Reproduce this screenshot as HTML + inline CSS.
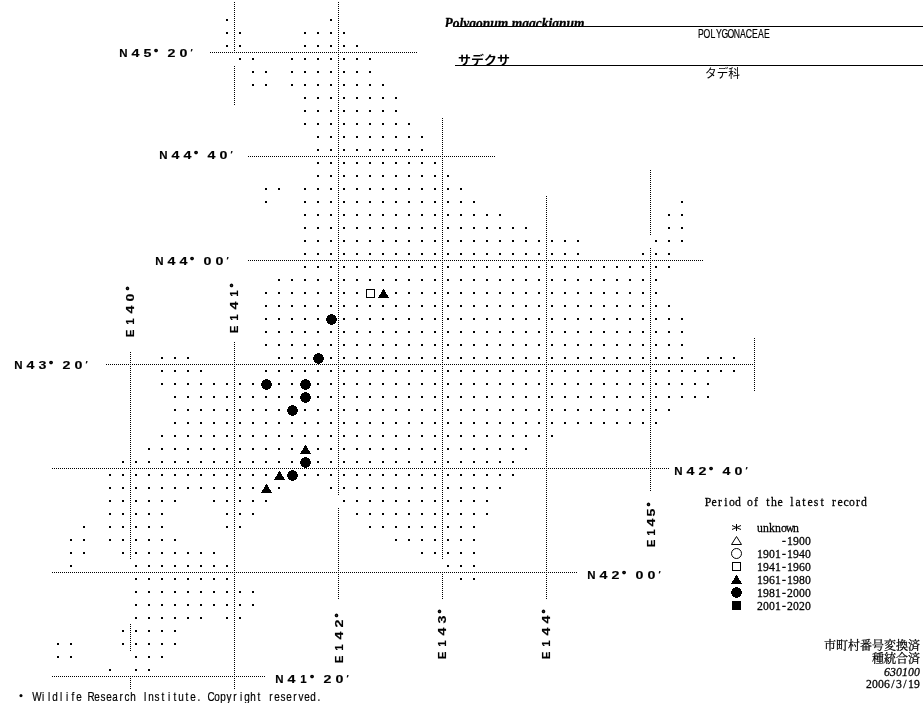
<!DOCTYPE html>
<html lang="ja"><head><meta charset="utf-8"><title>Polygonum maackianum</title>
<style>
html,body{margin:0;padding:0;background:#fff;}
body{width:923px;height:703px;overflow:hidden;position:relative;}
svg{position:absolute;left:0;top:0;display:block;}
.ax{font-family:"Liberation Sans",sans-serif;font-weight:bold;font-size:10px;fill:#000;text-anchor:middle;stroke:#000;stroke-width:.15px;}
.mono{font-family:"Liberation Mono",monospace;font-size:10px;fill:#000;stroke:#000;stroke-width:.25px;}
.serif{font-family:"Liberation Serif","Noto Serif CJK SC",serif;fill:#000;}
.got{font-family:"Liberation Sans","Noto Sans CJK JP",sans-serif;fill:#000;}
.min{font-family:"Liberation Serif","Noto Serif CJK SC",serif;fill:#000;}
</style></head><body>
<svg width="923" height="703" viewBox="0 0 923 703">
<rect width="923" height="703" fill="#fff"/>

<g shape-rendering="crispEdges" fill="#000">
<path d="M226 19h2v2h-2zM330 19h2v2h-2zM226 32h2v2h-2zM239 32h2v2h-2zM304 32h2v2h-2zM317 32h2v2h-2zM330 32h2v2h-2zM343 32h2v2h-2zM226 45h2v2h-2zM239 45h2v2h-2zM304 45h2v2h-2zM317 45h2v2h-2zM330 45h2v2h-2zM343 45h2v2h-2zM356 45h2v2h-2zM239 58h2v2h-2zM252 58h2v2h-2zM291 58h2v2h-2zM304 58h2v2h-2zM317 58h2v2h-2zM330 58h2v2h-2zM343 58h2v2h-2zM356 58h2v2h-2zM369 58h2v2h-2zM252 71h2v2h-2zM265 71h2v2h-2zM291 71h2v2h-2zM304 71h2v2h-2zM317 71h2v2h-2zM330 71h2v2h-2zM343 71h2v2h-2zM356 71h2v2h-2zM369 71h2v2h-2zM252 84h2v2h-2zM265 84h2v2h-2zM291 84h2v2h-2zM304 84h2v2h-2zM317 84h2v2h-2zM330 84h2v2h-2zM343 84h2v2h-2zM356 84h2v2h-2zM369 84h2v2h-2zM382 84h2v2h-2zM304 97h2v2h-2zM317 97h2v2h-2zM330 97h2v2h-2zM343 97h2v2h-2zM356 97h2v2h-2zM369 97h2v2h-2zM382 97h2v2h-2zM395 97h2v2h-2zM304 110h2v2h-2zM317 110h2v2h-2zM330 110h2v2h-2zM343 110h2v2h-2zM356 110h2v2h-2zM369 110h2v2h-2zM382 110h2v2h-2zM395 110h2v2h-2zM304 123h2v2h-2zM317 123h2v2h-2zM330 123h2v2h-2zM343 123h2v2h-2zM356 123h2v2h-2zM369 123h2v2h-2zM382 123h2v2h-2zM395 123h2v2h-2zM408 123h2v2h-2zM317 136h2v2h-2zM330 136h2v2h-2zM343 136h2v2h-2zM356 136h2v2h-2zM369 136h2v2h-2zM382 136h2v2h-2zM395 136h2v2h-2zM408 136h2v2h-2zM421 136h2v2h-2zM317 149h2v2h-2zM330 149h2v2h-2zM343 149h2v2h-2zM356 149h2v2h-2zM369 149h2v2h-2zM382 149h2v2h-2zM395 149h2v2h-2zM408 149h2v2h-2zM421 149h2v2h-2zM317 162h2v2h-2zM330 162h2v2h-2zM343 162h2v2h-2zM356 162h2v2h-2zM369 162h2v2h-2zM382 162h2v2h-2zM395 162h2v2h-2zM408 162h2v2h-2zM421 162h2v2h-2zM434 162h2v2h-2zM317 175h2v2h-2zM330 175h2v2h-2zM343 175h2v2h-2zM356 175h2v2h-2zM369 175h2v2h-2zM382 175h2v2h-2zM395 175h2v2h-2zM408 175h2v2h-2zM421 175h2v2h-2zM434 175h2v2h-2zM447 175h2v2h-2zM265 188h2v2h-2zM278 188h2v2h-2zM304 188h2v2h-2zM317 188h2v2h-2zM330 188h2v2h-2zM343 188h2v2h-2zM356 188h2v2h-2zM369 188h2v2h-2zM382 188h2v2h-2zM395 188h2v2h-2zM408 188h2v2h-2zM421 188h2v2h-2zM434 188h2v2h-2zM447 188h2v2h-2zM460 188h2v2h-2zM265 201h2v2h-2zM304 201h2v2h-2zM317 201h2v2h-2zM330 201h2v2h-2zM343 201h2v2h-2zM356 201h2v2h-2zM369 201h2v2h-2zM382 201h2v2h-2zM395 201h2v2h-2zM408 201h2v2h-2zM421 201h2v2h-2zM434 201h2v2h-2zM447 201h2v2h-2zM460 201h2v2h-2zM473 201h2v2h-2zM681 201h2v2h-2zM304 214h2v2h-2zM317 214h2v2h-2zM330 214h2v2h-2zM343 214h2v2h-2zM356 214h2v2h-2zM369 214h2v2h-2zM382 214h2v2h-2zM395 214h2v2h-2zM408 214h2v2h-2zM421 214h2v2h-2zM434 214h2v2h-2zM447 214h2v2h-2zM460 214h2v2h-2zM473 214h2v2h-2zM486 214h2v2h-2zM499 214h2v2h-2zM668 214h2v2h-2zM681 214h2v2h-2zM304 227h2v2h-2zM317 227h2v2h-2zM330 227h2v2h-2zM343 227h2v2h-2zM356 227h2v2h-2zM369 227h2v2h-2zM382 227h2v2h-2zM395 227h2v2h-2zM408 227h2v2h-2zM421 227h2v2h-2zM434 227h2v2h-2zM447 227h2v2h-2zM460 227h2v2h-2zM473 227h2v2h-2zM486 227h2v2h-2zM499 227h2v2h-2zM512 227h2v2h-2zM525 227h2v2h-2zM668 227h2v2h-2zM681 227h2v2h-2zM304 240h2v2h-2zM317 240h2v2h-2zM330 240h2v2h-2zM343 240h2v2h-2zM356 240h2v2h-2zM369 240h2v2h-2zM382 240h2v2h-2zM395 240h2v2h-2zM408 240h2v2h-2zM421 240h2v2h-2zM434 240h2v2h-2zM447 240h2v2h-2zM460 240h2v2h-2zM473 240h2v2h-2zM486 240h2v2h-2zM499 240h2v2h-2zM512 240h2v2h-2zM525 240h2v2h-2zM538 240h2v2h-2zM551 240h2v2h-2zM564 240h2v2h-2zM577 240h2v2h-2zM655 240h2v2h-2zM668 240h2v2h-2zM681 240h2v2h-2zM304 253h2v2h-2zM317 253h2v2h-2zM330 253h2v2h-2zM343 253h2v2h-2zM356 253h2v2h-2zM369 253h2v2h-2zM382 253h2v2h-2zM395 253h2v2h-2zM408 253h2v2h-2zM421 253h2v2h-2zM434 253h2v2h-2zM447 253h2v2h-2zM460 253h2v2h-2zM473 253h2v2h-2zM486 253h2v2h-2zM499 253h2v2h-2zM512 253h2v2h-2zM525 253h2v2h-2zM538 253h2v2h-2zM551 253h2v2h-2zM564 253h2v2h-2zM577 253h2v2h-2zM642 253h2v2h-2zM655 253h2v2h-2zM668 253h2v2h-2zM304 266h2v2h-2zM317 266h2v2h-2zM330 266h2v2h-2zM343 266h2v2h-2zM356 266h2v2h-2zM369 266h2v2h-2zM382 266h2v2h-2zM395 266h2v2h-2zM408 266h2v2h-2zM421 266h2v2h-2zM434 266h2v2h-2zM447 266h2v2h-2zM460 266h2v2h-2zM473 266h2v2h-2zM486 266h2v2h-2zM499 266h2v2h-2zM512 266h2v2h-2zM525 266h2v2h-2zM538 266h2v2h-2zM551 266h2v2h-2zM564 266h2v2h-2zM577 266h2v2h-2zM590 266h2v2h-2zM603 266h2v2h-2zM616 266h2v2h-2zM629 266h2v2h-2zM642 266h2v2h-2zM655 266h2v2h-2zM668 266h2v2h-2zM278 279h2v2h-2zM291 279h2v2h-2zM304 279h2v2h-2zM317 279h2v2h-2zM330 279h2v2h-2zM343 279h2v2h-2zM356 279h2v2h-2zM369 279h2v2h-2zM382 279h2v2h-2zM395 279h2v2h-2zM408 279h2v2h-2zM421 279h2v2h-2zM434 279h2v2h-2zM447 279h2v2h-2zM460 279h2v2h-2zM473 279h2v2h-2zM486 279h2v2h-2zM499 279h2v2h-2zM512 279h2v2h-2zM525 279h2v2h-2zM538 279h2v2h-2zM551 279h2v2h-2zM564 279h2v2h-2zM577 279h2v2h-2zM590 279h2v2h-2zM603 279h2v2h-2zM616 279h2v2h-2zM629 279h2v2h-2zM642 279h2v2h-2zM655 279h2v2h-2zM265 292h2v2h-2zM278 292h2v2h-2zM291 292h2v2h-2zM304 292h2v2h-2zM317 292h2v2h-2zM330 292h2v2h-2zM343 292h2v2h-2zM356 292h2v2h-2zM395 292h2v2h-2zM408 292h2v2h-2zM421 292h2v2h-2zM434 292h2v2h-2zM447 292h2v2h-2zM460 292h2v2h-2zM473 292h2v2h-2zM486 292h2v2h-2zM499 292h2v2h-2zM512 292h2v2h-2zM525 292h2v2h-2zM538 292h2v2h-2zM551 292h2v2h-2zM564 292h2v2h-2zM577 292h2v2h-2zM590 292h2v2h-2zM603 292h2v2h-2zM616 292h2v2h-2zM629 292h2v2h-2zM642 292h2v2h-2zM655 292h2v2h-2zM265 305h2v2h-2zM278 305h2v2h-2zM291 305h2v2h-2zM304 305h2v2h-2zM317 305h2v2h-2zM330 305h2v2h-2zM343 305h2v2h-2zM356 305h2v2h-2zM369 305h2v2h-2zM382 305h2v2h-2zM395 305h2v2h-2zM408 305h2v2h-2zM421 305h2v2h-2zM434 305h2v2h-2zM447 305h2v2h-2zM460 305h2v2h-2zM473 305h2v2h-2zM486 305h2v2h-2zM499 305h2v2h-2zM512 305h2v2h-2zM525 305h2v2h-2zM538 305h2v2h-2zM551 305h2v2h-2zM564 305h2v2h-2zM577 305h2v2h-2zM590 305h2v2h-2zM603 305h2v2h-2zM616 305h2v2h-2zM629 305h2v2h-2zM642 305h2v2h-2zM655 305h2v2h-2zM668 305h2v2h-2zM265 318h2v2h-2zM278 318h2v2h-2zM291 318h2v2h-2zM304 318h2v2h-2zM317 318h2v2h-2zM343 318h2v2h-2zM356 318h2v2h-2zM369 318h2v2h-2zM382 318h2v2h-2zM395 318h2v2h-2zM408 318h2v2h-2zM421 318h2v2h-2zM434 318h2v2h-2zM447 318h2v2h-2zM460 318h2v2h-2zM473 318h2v2h-2zM486 318h2v2h-2zM499 318h2v2h-2zM512 318h2v2h-2zM525 318h2v2h-2zM538 318h2v2h-2zM551 318h2v2h-2zM564 318h2v2h-2zM577 318h2v2h-2zM590 318h2v2h-2zM603 318h2v2h-2zM616 318h2v2h-2zM629 318h2v2h-2zM642 318h2v2h-2zM655 318h2v2h-2zM668 318h2v2h-2zM681 318h2v2h-2zM265 331h2v2h-2zM278 331h2v2h-2zM291 331h2v2h-2zM304 331h2v2h-2zM317 331h2v2h-2zM330 331h2v2h-2zM343 331h2v2h-2zM356 331h2v2h-2zM369 331h2v2h-2zM382 331h2v2h-2zM395 331h2v2h-2zM408 331h2v2h-2zM421 331h2v2h-2zM434 331h2v2h-2zM447 331h2v2h-2zM460 331h2v2h-2zM473 331h2v2h-2zM486 331h2v2h-2zM499 331h2v2h-2zM512 331h2v2h-2zM525 331h2v2h-2zM538 331h2v2h-2zM551 331h2v2h-2zM564 331h2v2h-2zM577 331h2v2h-2zM590 331h2v2h-2zM603 331h2v2h-2zM616 331h2v2h-2zM629 331h2v2h-2zM642 331h2v2h-2zM655 331h2v2h-2zM668 331h2v2h-2zM681 331h2v2h-2zM265 344h2v2h-2zM278 344h2v2h-2zM291 344h2v2h-2zM304 344h2v2h-2zM317 344h2v2h-2zM330 344h2v2h-2zM343 344h2v2h-2zM356 344h2v2h-2zM369 344h2v2h-2zM382 344h2v2h-2zM395 344h2v2h-2zM408 344h2v2h-2zM421 344h2v2h-2zM434 344h2v2h-2zM447 344h2v2h-2zM460 344h2v2h-2zM473 344h2v2h-2zM486 344h2v2h-2zM499 344h2v2h-2zM512 344h2v2h-2zM525 344h2v2h-2zM538 344h2v2h-2zM551 344h2v2h-2zM564 344h2v2h-2zM577 344h2v2h-2zM590 344h2v2h-2zM603 344h2v2h-2zM616 344h2v2h-2zM629 344h2v2h-2zM642 344h2v2h-2zM655 344h2v2h-2zM668 344h2v2h-2zM681 344h2v2h-2zM161 357h2v2h-2zM174 357h2v2h-2zM187 357h2v2h-2zM278 357h2v2h-2zM291 357h2v2h-2zM304 357h2v2h-2zM330 357h2v2h-2zM343 357h2v2h-2zM356 357h2v2h-2zM369 357h2v2h-2zM382 357h2v2h-2zM395 357h2v2h-2zM408 357h2v2h-2zM421 357h2v2h-2zM434 357h2v2h-2zM447 357h2v2h-2zM460 357h2v2h-2zM473 357h2v2h-2zM486 357h2v2h-2zM499 357h2v2h-2zM512 357h2v2h-2zM525 357h2v2h-2zM538 357h2v2h-2zM551 357h2v2h-2zM564 357h2v2h-2zM577 357h2v2h-2zM590 357h2v2h-2zM603 357h2v2h-2zM616 357h2v2h-2zM629 357h2v2h-2zM642 357h2v2h-2zM655 357h2v2h-2zM668 357h2v2h-2zM681 357h2v2h-2zM707 357h2v2h-2zM720 357h2v2h-2zM733 357h2v2h-2zM161 370h2v2h-2zM174 370h2v2h-2zM187 370h2v2h-2zM200 370h2v2h-2zM265 370h2v2h-2zM278 370h2v2h-2zM291 370h2v2h-2zM304 370h2v2h-2zM317 370h2v2h-2zM330 370h2v2h-2zM343 370h2v2h-2zM356 370h2v2h-2zM369 370h2v2h-2zM382 370h2v2h-2zM395 370h2v2h-2zM408 370h2v2h-2zM421 370h2v2h-2zM434 370h2v2h-2zM447 370h2v2h-2zM460 370h2v2h-2zM473 370h2v2h-2zM486 370h2v2h-2zM499 370h2v2h-2zM512 370h2v2h-2zM525 370h2v2h-2zM538 370h2v2h-2zM551 370h2v2h-2zM564 370h2v2h-2zM577 370h2v2h-2zM590 370h2v2h-2zM603 370h2v2h-2zM616 370h2v2h-2zM629 370h2v2h-2zM642 370h2v2h-2zM655 370h2v2h-2zM668 370h2v2h-2zM681 370h2v2h-2zM694 370h2v2h-2zM707 370h2v2h-2zM720 370h2v2h-2zM733 370h2v2h-2zM161 383h2v2h-2zM174 383h2v2h-2zM187 383h2v2h-2zM200 383h2v2h-2zM213 383h2v2h-2zM226 383h2v2h-2zM239 383h2v2h-2zM252 383h2v2h-2zM278 383h2v2h-2zM291 383h2v2h-2zM317 383h2v2h-2zM330 383h2v2h-2zM343 383h2v2h-2zM356 383h2v2h-2zM369 383h2v2h-2zM382 383h2v2h-2zM395 383h2v2h-2zM408 383h2v2h-2zM421 383h2v2h-2zM434 383h2v2h-2zM447 383h2v2h-2zM460 383h2v2h-2zM473 383h2v2h-2zM486 383h2v2h-2zM499 383h2v2h-2zM512 383h2v2h-2zM525 383h2v2h-2zM538 383h2v2h-2zM551 383h2v2h-2zM564 383h2v2h-2zM577 383h2v2h-2zM590 383h2v2h-2zM603 383h2v2h-2zM616 383h2v2h-2zM629 383h2v2h-2zM642 383h2v2h-2zM655 383h2v2h-2zM668 383h2v2h-2zM681 383h2v2h-2zM694 383h2v2h-2zM707 383h2v2h-2zM174 396h2v2h-2zM187 396h2v2h-2zM200 396h2v2h-2zM213 396h2v2h-2zM226 396h2v2h-2zM239 396h2v2h-2zM252 396h2v2h-2zM265 396h2v2h-2zM278 396h2v2h-2zM291 396h2v2h-2zM317 396h2v2h-2zM330 396h2v2h-2zM343 396h2v2h-2zM356 396h2v2h-2zM369 396h2v2h-2zM382 396h2v2h-2zM395 396h2v2h-2zM408 396h2v2h-2zM421 396h2v2h-2zM434 396h2v2h-2zM447 396h2v2h-2zM460 396h2v2h-2zM473 396h2v2h-2zM486 396h2v2h-2zM499 396h2v2h-2zM512 396h2v2h-2zM525 396h2v2h-2zM538 396h2v2h-2zM551 396h2v2h-2zM564 396h2v2h-2zM577 396h2v2h-2zM590 396h2v2h-2zM603 396h2v2h-2zM616 396h2v2h-2zM629 396h2v2h-2zM642 396h2v2h-2zM655 396h2v2h-2zM668 396h2v2h-2zM681 396h2v2h-2zM694 396h2v2h-2zM707 396h2v2h-2zM174 409h2v2h-2zM187 409h2v2h-2zM200 409h2v2h-2zM213 409h2v2h-2zM226 409h2v2h-2zM239 409h2v2h-2zM252 409h2v2h-2zM265 409h2v2h-2zM278 409h2v2h-2zM304 409h2v2h-2zM317 409h2v2h-2zM330 409h2v2h-2zM343 409h2v2h-2zM356 409h2v2h-2zM369 409h2v2h-2zM382 409h2v2h-2zM395 409h2v2h-2zM408 409h2v2h-2zM421 409h2v2h-2zM434 409h2v2h-2zM447 409h2v2h-2zM460 409h2v2h-2zM473 409h2v2h-2zM486 409h2v2h-2zM499 409h2v2h-2zM512 409h2v2h-2zM525 409h2v2h-2zM538 409h2v2h-2zM551 409h2v2h-2zM564 409h2v2h-2zM577 409h2v2h-2zM590 409h2v2h-2zM603 409h2v2h-2zM616 409h2v2h-2zM629 409h2v2h-2zM642 409h2v2h-2zM655 409h2v2h-2zM668 409h2v2h-2zM174 422h2v2h-2zM187 422h2v2h-2zM200 422h2v2h-2zM213 422h2v2h-2zM226 422h2v2h-2zM239 422h2v2h-2zM252 422h2v2h-2zM265 422h2v2h-2zM278 422h2v2h-2zM291 422h2v2h-2zM304 422h2v2h-2zM317 422h2v2h-2zM330 422h2v2h-2zM343 422h2v2h-2zM356 422h2v2h-2zM369 422h2v2h-2zM382 422h2v2h-2zM395 422h2v2h-2zM408 422h2v2h-2zM421 422h2v2h-2zM434 422h2v2h-2zM447 422h2v2h-2zM460 422h2v2h-2zM473 422h2v2h-2zM486 422h2v2h-2zM499 422h2v2h-2zM512 422h2v2h-2zM525 422h2v2h-2zM538 422h2v2h-2zM551 422h2v2h-2zM564 422h2v2h-2zM577 422h2v2h-2zM590 422h2v2h-2zM603 422h2v2h-2zM616 422h2v2h-2zM629 422h2v2h-2zM642 422h2v2h-2zM655 422h2v2h-2zM161 435h2v2h-2zM174 435h2v2h-2zM187 435h2v2h-2zM200 435h2v2h-2zM213 435h2v2h-2zM226 435h2v2h-2zM239 435h2v2h-2zM252 435h2v2h-2zM265 435h2v2h-2zM278 435h2v2h-2zM291 435h2v2h-2zM304 435h2v2h-2zM317 435h2v2h-2zM330 435h2v2h-2zM343 435h2v2h-2zM356 435h2v2h-2zM369 435h2v2h-2zM382 435h2v2h-2zM395 435h2v2h-2zM408 435h2v2h-2zM421 435h2v2h-2zM434 435h2v2h-2zM447 435h2v2h-2zM460 435h2v2h-2zM473 435h2v2h-2zM486 435h2v2h-2zM499 435h2v2h-2zM512 435h2v2h-2zM525 435h2v2h-2zM538 435h2v2h-2zM551 435h2v2h-2zM148 448h2v2h-2zM161 448h2v2h-2zM174 448h2v2h-2zM187 448h2v2h-2zM200 448h2v2h-2zM213 448h2v2h-2zM226 448h2v2h-2zM239 448h2v2h-2zM252 448h2v2h-2zM265 448h2v2h-2zM278 448h2v2h-2zM291 448h2v2h-2zM317 448h2v2h-2zM330 448h2v2h-2zM343 448h2v2h-2zM356 448h2v2h-2zM369 448h2v2h-2zM382 448h2v2h-2zM395 448h2v2h-2zM408 448h2v2h-2zM421 448h2v2h-2zM434 448h2v2h-2zM447 448h2v2h-2zM460 448h2v2h-2zM473 448h2v2h-2zM486 448h2v2h-2zM499 448h2v2h-2zM512 448h2v2h-2zM525 448h2v2h-2zM122 461h2v2h-2zM135 461h2v2h-2zM148 461h2v2h-2zM161 461h2v2h-2zM174 461h2v2h-2zM187 461h2v2h-2zM200 461h2v2h-2zM213 461h2v2h-2zM226 461h2v2h-2zM239 461h2v2h-2zM252 461h2v2h-2zM265 461h2v2h-2zM278 461h2v2h-2zM291 461h2v2h-2zM317 461h2v2h-2zM330 461h2v2h-2zM343 461h2v2h-2zM356 461h2v2h-2zM369 461h2v2h-2zM382 461h2v2h-2zM395 461h2v2h-2zM408 461h2v2h-2zM421 461h2v2h-2zM434 461h2v2h-2zM447 461h2v2h-2zM460 461h2v2h-2zM473 461h2v2h-2zM486 461h2v2h-2zM499 461h2v2h-2zM512 461h2v2h-2zM109 474h2v2h-2zM122 474h2v2h-2zM135 474h2v2h-2zM148 474h2v2h-2zM161 474h2v2h-2zM174 474h2v2h-2zM187 474h2v2h-2zM200 474h2v2h-2zM213 474h2v2h-2zM226 474h2v2h-2zM239 474h2v2h-2zM252 474h2v2h-2zM265 474h2v2h-2zM304 474h2v2h-2zM317 474h2v2h-2zM330 474h2v2h-2zM343 474h2v2h-2zM356 474h2v2h-2zM369 474h2v2h-2zM382 474h2v2h-2zM395 474h2v2h-2zM408 474h2v2h-2zM421 474h2v2h-2zM434 474h2v2h-2zM447 474h2v2h-2zM460 474h2v2h-2zM473 474h2v2h-2zM486 474h2v2h-2zM499 474h2v2h-2zM512 474h2v2h-2zM109 487h2v2h-2zM122 487h2v2h-2zM135 487h2v2h-2zM148 487h2v2h-2zM161 487h2v2h-2zM174 487h2v2h-2zM187 487h2v2h-2zM200 487h2v2h-2zM213 487h2v2h-2zM226 487h2v2h-2zM239 487h2v2h-2zM252 487h2v2h-2zM278 487h2v2h-2zM330 487h2v2h-2zM343 487h2v2h-2zM356 487h2v2h-2zM369 487h2v2h-2zM382 487h2v2h-2zM395 487h2v2h-2zM408 487h2v2h-2zM421 487h2v2h-2zM434 487h2v2h-2zM447 487h2v2h-2zM460 487h2v2h-2zM473 487h2v2h-2zM486 487h2v2h-2zM499 487h2v2h-2zM109 500h2v2h-2zM122 500h2v2h-2zM135 500h2v2h-2zM148 500h2v2h-2zM161 500h2v2h-2zM174 500h2v2h-2zM213 500h2v2h-2zM226 500h2v2h-2zM239 500h2v2h-2zM252 500h2v2h-2zM265 500h2v2h-2zM343 500h2v2h-2zM356 500h2v2h-2zM369 500h2v2h-2zM382 500h2v2h-2zM395 500h2v2h-2zM408 500h2v2h-2zM421 500h2v2h-2zM434 500h2v2h-2zM447 500h2v2h-2zM460 500h2v2h-2zM473 500h2v2h-2zM486 500h2v2h-2zM109 513h2v2h-2zM122 513h2v2h-2zM135 513h2v2h-2zM148 513h2v2h-2zM161 513h2v2h-2zM226 513h2v2h-2zM239 513h2v2h-2zM252 513h2v2h-2zM356 513h2v2h-2zM369 513h2v2h-2zM382 513h2v2h-2zM395 513h2v2h-2zM408 513h2v2h-2zM421 513h2v2h-2zM434 513h2v2h-2zM447 513h2v2h-2zM460 513h2v2h-2zM473 513h2v2h-2zM486 513h2v2h-2zM83 526h2v2h-2zM109 526h2v2h-2zM122 526h2v2h-2zM135 526h2v2h-2zM148 526h2v2h-2zM161 526h2v2h-2zM226 526h2v2h-2zM239 526h2v2h-2zM369 526h2v2h-2zM382 526h2v2h-2zM395 526h2v2h-2zM408 526h2v2h-2zM421 526h2v2h-2zM434 526h2v2h-2zM447 526h2v2h-2zM460 526h2v2h-2zM473 526h2v2h-2zM70 539h2v2h-2zM83 539h2v2h-2zM109 539h2v2h-2zM122 539h2v2h-2zM135 539h2v2h-2zM148 539h2v2h-2zM161 539h2v2h-2zM174 539h2v2h-2zM395 539h2v2h-2zM408 539h2v2h-2zM421 539h2v2h-2zM434 539h2v2h-2zM447 539h2v2h-2zM460 539h2v2h-2zM473 539h2v2h-2zM70 552h2v2h-2zM83 552h2v2h-2zM122 552h2v2h-2zM135 552h2v2h-2zM148 552h2v2h-2zM161 552h2v2h-2zM174 552h2v2h-2zM187 552h2v2h-2zM200 552h2v2h-2zM213 552h2v2h-2zM421 552h2v2h-2zM434 552h2v2h-2zM447 552h2v2h-2zM460 552h2v2h-2zM473 552h2v2h-2zM70 565h2v2h-2zM135 565h2v2h-2zM148 565h2v2h-2zM161 565h2v2h-2zM174 565h2v2h-2zM187 565h2v2h-2zM200 565h2v2h-2zM213 565h2v2h-2zM226 565h2v2h-2zM447 565h2v2h-2zM460 565h2v2h-2zM473 565h2v2h-2zM135 578h2v2h-2zM148 578h2v2h-2zM161 578h2v2h-2zM174 578h2v2h-2zM187 578h2v2h-2zM200 578h2v2h-2zM213 578h2v2h-2zM226 578h2v2h-2zM460 578h2v2h-2zM473 578h2v2h-2zM135 591h2v2h-2zM148 591h2v2h-2zM161 591h2v2h-2zM174 591h2v2h-2zM187 591h2v2h-2zM200 591h2v2h-2zM213 591h2v2h-2zM226 591h2v2h-2zM239 591h2v2h-2zM252 591h2v2h-2zM135 604h2v2h-2zM148 604h2v2h-2zM161 604h2v2h-2zM174 604h2v2h-2zM187 604h2v2h-2zM200 604h2v2h-2zM213 604h2v2h-2zM226 604h2v2h-2zM239 604h2v2h-2zM252 604h2v2h-2zM135 617h2v2h-2zM148 617h2v2h-2zM161 617h2v2h-2zM174 617h2v2h-2zM187 617h2v2h-2zM200 617h2v2h-2zM226 617h2v2h-2zM239 617h2v2h-2zM122 630h2v2h-2zM135 630h2v2h-2zM148 630h2v2h-2zM161 630h2v2h-2zM174 630h2v2h-2zM57 643h2v2h-2zM70 643h2v2h-2zM122 643h2v2h-2zM135 643h2v2h-2zM148 643h2v2h-2zM161 643h2v2h-2zM174 643h2v2h-2zM57 656h2v2h-2zM70 656h2v2h-2zM135 656h2v2h-2zM148 656h2v2h-2zM161 656h2v2h-2zM109 669h2v2h-2zM135 669h2v2h-2zM148 669h2v2h-2z"/>
<path d="M366 289h9v9h-9zM367 290v7h7v-7zM383 289h1v1h-1zM382 290h3v1h-3zM382 291h3v1h-3zM381 292h5v1h-5zM381 293h5v1h-5zM380 294h7v1h-7zM379 295h9v1h-9zM379 296h9v1h-9zM378 297h11v1h-11zM330 314h3v1h-3zM328 315h7v1h-7zM327 316h9v1h-9zM327 317h9v1h-9zM326 318h11v1h-11zM326 319h11v1h-11zM326 320h11v1h-11zM327 321h9v1h-9zM327 322h9v1h-9zM328 323h7v1h-7zM330 324h3v1h-3zM317 353h3v1h-3zM315 354h7v1h-7zM314 355h9v1h-9zM314 356h9v1h-9zM313 357h11v1h-11zM313 358h11v1h-11zM313 359h11v1h-11zM314 360h9v1h-9zM314 361h9v1h-9zM315 362h7v1h-7zM317 363h3v1h-3zM265 379h3v1h-3zM263 380h7v1h-7zM262 381h9v1h-9zM262 382h9v1h-9zM261 383h11v1h-11zM261 384h11v1h-11zM261 385h11v1h-11zM262 386h9v1h-9zM262 387h9v1h-9zM263 388h7v1h-7zM265 389h3v1h-3zM304 379h3v1h-3zM302 380h7v1h-7zM301 381h9v1h-9zM301 382h9v1h-9zM300 383h11v1h-11zM300 384h11v1h-11zM300 385h11v1h-11zM301 386h9v1h-9zM301 387h9v1h-9zM302 388h7v1h-7zM304 389h3v1h-3zM304 392h3v1h-3zM302 393h7v1h-7zM301 394h9v1h-9zM301 395h9v1h-9zM300 396h11v1h-11zM300 397h11v1h-11zM300 398h11v1h-11zM301 399h9v1h-9zM301 400h9v1h-9zM302 401h7v1h-7zM304 402h3v1h-3zM291 405h3v1h-3zM289 406h7v1h-7zM288 407h9v1h-9zM288 408h9v1h-9zM287 409h11v1h-11zM287 410h11v1h-11zM287 411h11v1h-11zM288 412h9v1h-9zM288 413h9v1h-9zM289 414h7v1h-7zM291 415h3v1h-3zM305 445h1v1h-1zM304 446h3v1h-3zM304 447h3v1h-3zM303 448h5v1h-5zM303 449h5v1h-5zM302 450h7v1h-7zM301 451h9v1h-9zM301 452h9v1h-9zM300 453h11v1h-11zM304 457h3v1h-3zM302 458h7v1h-7zM301 459h9v1h-9zM301 460h9v1h-9zM300 461h11v1h-11zM300 462h11v1h-11zM300 463h11v1h-11zM301 464h9v1h-9zM301 465h9v1h-9zM302 466h7v1h-7zM304 467h3v1h-3zM279 471h1v1h-1zM278 472h3v1h-3zM278 473h3v1h-3zM277 474h5v1h-5zM277 475h5v1h-5zM276 476h7v1h-7zM275 477h9v1h-9zM275 478h9v1h-9zM274 479h11v1h-11zM291 470h3v1h-3zM289 471h7v1h-7zM288 472h9v1h-9zM288 473h9v1h-9zM287 474h11v1h-11zM287 475h11v1h-11zM287 476h11v1h-11zM288 477h9v1h-9zM288 478h9v1h-9zM289 479h7v1h-7zM291 480h3v1h-3zM266 484h1v1h-1zM265 485h3v1h-3zM265 486h3v1h-3zM264 487h5v1h-5zM264 488h5v1h-5zM263 489h7v1h-7zM262 490h9v1h-9zM262 491h9v1h-9zM261 492h11v1h-11z"/>
</g>
<g shape-rendering="crispEdges" stroke="#000" stroke-width="1" stroke-dasharray="1 1" fill="none"><line x1="130.5" y1="352" x2="130.5" y2="559"/><line x1="130.5" y1="624" x2="130.5" y2="652"/><line x1="130.5" y1="678" x2="130.5" y2="690"/><line x1="234.5" y1="2" x2="234.5" y2="52"/><line x1="234.5" y1="66" x2="234.5" y2="105"/><line x1="234.5" y1="342" x2="234.5" y2="690"/><line x1="338.5" y1="2" x2="338.5" y2="496"/><line x1="338.5" y1="508" x2="338.5" y2="599"/><line x1="442.5" y1="118" x2="442.5" y2="559"/><line x1="442.5" y1="574" x2="442.5" y2="599"/><line x1="546.5" y1="196" x2="546.5" y2="599"/><line x1="650.5" y1="170" x2="650.5" y2="236"/><line x1="650.5" y1="248" x2="650.5" y2="491"/><line x1="754.5" y1="338" x2="754.5" y2="392"/><line x1="210" y1="52.5" x2="417" y2="52.5"/><line x1="248" y1="156.5" x2="495" y2="156.5"/><line x1="248" y1="260.5" x2="703" y2="260.5"/><line x1="106" y1="364.5" x2="755" y2="364.5"/><line x1="52" y1="468.5" x2="669" y2="468.5"/><line x1="52" y1="572.5" x2="577" y2="572.5"/><line x1="52" y1="676.5" x2="265" y2="676.5"/></g>
<g shape-rendering="crispEdges" fill="#000"><rect x="455" y="26" width="468" height="1"/><rect x="455" y="65" width="468" height="1"/></g>
<text class="ax" transform="translate(123.5,57) scale(1.15,1)">N</text><text class="ax" transform="translate(135.5,57) scale(1.42,1)">4</text><text class="ax" transform="translate(147.5,57) scale(1.42,1)">5</text><text class="ax" style="stroke-width:.9px;font-size:9px" transform="translate(156,55.4) scale(1,1)">°</text><text class="ax" transform="translate(171.5,57) scale(1.42,1)">2</text><text class="ax" transform="translate(183.5,57) scale(1.42,1)">0</text><text class="ax" style="font-size:9px" transform="translate(191.5,54.8) scale(1,1)">′</text>
<text class="ax" transform="translate(163.5,159) scale(1.15,1)">N</text><text class="ax" transform="translate(175.5,159) scale(1.42,1)">4</text><text class="ax" transform="translate(187.5,159) scale(1.42,1)">4</text><text class="ax" style="stroke-width:.9px;font-size:9px" transform="translate(196,157.4) scale(1,1)">°</text><text class="ax" transform="translate(211.5,159) scale(1.42,1)">4</text><text class="ax" transform="translate(223.5,159) scale(1.42,1)">0</text><text class="ax" style="font-size:9px" transform="translate(231.5,156.8) scale(1,1)">′</text>
<text class="ax" transform="translate(159.5,265) scale(1.15,1)">N</text><text class="ax" transform="translate(171.5,265) scale(1.42,1)">4</text><text class="ax" transform="translate(183.5,265) scale(1.42,1)">4</text><text class="ax" style="stroke-width:.9px;font-size:9px" transform="translate(192,263.4) scale(1,1)">°</text><text class="ax" transform="translate(207.5,265) scale(1.42,1)">0</text><text class="ax" transform="translate(219.5,265) scale(1.42,1)">0</text><text class="ax" style="font-size:9px" transform="translate(227.5,262.8) scale(1,1)">′</text>
<text class="ax" transform="translate(18.5,369) scale(1.15,1)">N</text><text class="ax" transform="translate(30.5,369) scale(1.42,1)">4</text><text class="ax" transform="translate(42.5,369) scale(1.42,1)">3</text><text class="ax" style="stroke-width:.9px;font-size:9px" transform="translate(51,367.4) scale(1,1)">°</text><text class="ax" transform="translate(66.5,369) scale(1.42,1)">2</text><text class="ax" transform="translate(78.5,369) scale(1.42,1)">0</text><text class="ax" style="font-size:9px" transform="translate(86.5,366.8) scale(1,1)">′</text>
<text class="ax" transform="translate(678.5,475) scale(1.15,1)">N</text><text class="ax" transform="translate(690.5,475) scale(1.42,1)">4</text><text class="ax" transform="translate(702.5,475) scale(1.42,1)">2</text><text class="ax" style="stroke-width:.9px;font-size:9px" transform="translate(711,473.4) scale(1,1)">°</text><text class="ax" transform="translate(726.5,475) scale(1.42,1)">4</text><text class="ax" transform="translate(738.5,475) scale(1.42,1)">0</text><text class="ax" style="font-size:9px" transform="translate(746.5,472.8) scale(1,1)">′</text>
<text class="ax" transform="translate(591.5,579) scale(1.15,1)">N</text><text class="ax" transform="translate(603.5,579) scale(1.42,1)">4</text><text class="ax" transform="translate(615.5,579) scale(1.42,1)">2</text><text class="ax" style="stroke-width:.9px;font-size:9px" transform="translate(624,577.4) scale(1,1)">°</text><text class="ax" transform="translate(639.5,579) scale(1.42,1)">0</text><text class="ax" transform="translate(651.5,579) scale(1.42,1)">0</text><text class="ax" style="font-size:9px" transform="translate(659.5,576.8) scale(1,1)">′</text>
<text class="ax" transform="translate(279.5,683) scale(1.15,1)">N</text><text class="ax" transform="translate(291.5,683) scale(1.42,1)">4</text><text class="ax" transform="translate(303.5,683) scale(1.15,1)">1</text><text class="ax" style="stroke-width:.9px;font-size:9px" transform="translate(312,681.4) scale(1,1)">°</text><text class="ax" transform="translate(327.5,683) scale(1.42,1)">2</text><text class="ax" transform="translate(339.5,683) scale(1.42,1)">0</text><text class="ax" style="font-size:9px" transform="translate(347.5,680.8) scale(1,1)">′</text>
<text class="ax" transform="translate(134,333.5) rotate(-90) scale(1.15,1)">E</text><text class="ax" transform="translate(134,321.5) rotate(-90) scale(1.15,1)">1</text><text class="ax" transform="translate(134,309.5) rotate(-90) scale(1.42,1)">4</text><text class="ax" transform="translate(134,297.5) rotate(-90) scale(1.42,1)">0</text><text class="ax" style="stroke-width:.9px;font-size:9px" transform="translate(132.4,288.5) rotate(-90) scale(1,1)">°</text>
<text class="ax" transform="translate(238,329.5) rotate(-90) scale(1.15,1)">E</text><text class="ax" transform="translate(238,317.5) rotate(-90) scale(1.15,1)">1</text><text class="ax" transform="translate(238,305.5) rotate(-90) scale(1.42,1)">4</text><text class="ax" transform="translate(238,293.5) rotate(-90) scale(1.15,1)">1</text><text class="ax" style="stroke-width:.9px;font-size:9px" transform="translate(236.4,285.5) rotate(-90) scale(1,1)">°</text>
<text class="ax" transform="translate(343,659.5) rotate(-90) scale(1.15,1)">E</text><text class="ax" transform="translate(343,647.5) rotate(-90) scale(1.15,1)">1</text><text class="ax" transform="translate(343,635.5) rotate(-90) scale(1.42,1)">4</text><text class="ax" transform="translate(343,623.5) rotate(-90) scale(1.42,1)">2</text><text class="ax" style="stroke-width:.9px;font-size:9px" transform="translate(341.4,615.5) rotate(-90) scale(1,1)">°</text>
<text class="ax" transform="translate(446,655.5) rotate(-90) scale(1.15,1)">E</text><text class="ax" transform="translate(446,643.5) rotate(-90) scale(1.15,1)">1</text><text class="ax" transform="translate(446,631.5) rotate(-90) scale(1.42,1)">4</text><text class="ax" transform="translate(446,619.5) rotate(-90) scale(1.42,1)">3</text><text class="ax" style="stroke-width:.9px;font-size:9px" transform="translate(444.4,611.5) rotate(-90) scale(1,1)">°</text>
<text class="ax" transform="translate(550,655.5) rotate(-90) scale(1.15,1)">E</text><text class="ax" transform="translate(550,643.5) rotate(-90) scale(1.15,1)">1</text><text class="ax" transform="translate(550,631.5) rotate(-90) scale(1.42,1)">4</text><text class="ax" transform="translate(550,619.5) rotate(-90) scale(1.42,1)">4</text><text class="ax" style="stroke-width:.9px;font-size:9px" transform="translate(548.4,611.5) rotate(-90) scale(1,1)">°</text>
<text class="ax" transform="translate(655,543.5) rotate(-90) scale(1.15,1)">E</text><text class="ax" transform="translate(655,532.5) rotate(-90) scale(1.15,1)">1</text><text class="ax" transform="translate(655,522.5) rotate(-90) scale(1.42,1)">4</text><text class="ax" transform="translate(655,512.5) rotate(-90) scale(1.42,1)">5</text><text class="ax" style="stroke-width:.9px;font-size:9px" transform="translate(653.4,504.5) rotate(-90) scale(1,1)">°</text>
<text class="min" font-size="13.5" text-anchor="middle" transform="translate(705,506) scale(0.87,1)" x="3.448 10.34 17.24 24.14 31.03 37.93 44.83 51.72 58.62 65.52 72.41 79.31 86.21 93.1 100 106.9 113.8 120.7 127.6 134.5 141.4 148.3 155.2 162.1 169 175.9 182.8" y="0" stroke="#000" stroke-width=".3"  xml:space="preserve">Period of the latest record</text>
<text class="min" font-size="13.5" text-anchor="middle" transform="translate(757,532) scale(0.87,1)" x="3.448 10.34 17.24 24.14 31.03 37.93 44.83" y="0" stroke="#000" stroke-width=".3"  xml:space="preserve">unknown</text>
<text class="min" font-size="13.5" text-anchor="middle" transform="translate(781,545) scale(0.87,1)" x="3.448 10.34 17.24 24.14 31.03" y="0" stroke="#000" stroke-width=".3"  xml:space="preserve">-1900</text>
<text class="min" font-size="13.5" text-anchor="middle" transform="translate(757,558) scale(0.87,1)" x="3.448 10.34 17.24 24.14 31.03 37.93 44.83 51.72 58.62" y="0" stroke="#000" stroke-width=".3"  xml:space="preserve">1901-1940</text>
<text class="min" font-size="13.5" text-anchor="middle" transform="translate(757,571) scale(0.87,1)" x="3.448 10.34 17.24 24.14 31.03 37.93 44.83 51.72 58.62" y="0" stroke="#000" stroke-width=".3"  xml:space="preserve">1941-1960</text>
<text class="min" font-size="13.5" text-anchor="middle" transform="translate(757,584) scale(0.87,1)" x="3.448 10.34 17.24 24.14 31.03 37.93 44.83 51.72 58.62" y="0" stroke="#000" stroke-width=".3"  xml:space="preserve">1961-1980</text>
<text class="min" font-size="13.5" text-anchor="middle" transform="translate(757,597) scale(0.87,1)" x="3.448 10.34 17.24 24.14 31.03 37.93 44.83 51.72 58.62" y="0" stroke="#000" stroke-width=".3"  xml:space="preserve">1981-2000</text>
<text class="min" font-size="13.5" text-anchor="middle" transform="translate(757,610) scale(0.87,1)" x="3.448 10.34 17.24 24.14 31.03 37.93 44.83 51.72 58.62" y="0" stroke="#000" stroke-width=".3"  xml:space="preserve">2001-2020</text>
<g shape-rendering="crispEdges" fill="#000"><path d="M736 575h1v1h-1zM735 576h3v1h-3zM735 577h3v1h-3zM734 578h5v1h-5zM734 579h5v1h-5zM733 580h7v1h-7zM732 581h9v1h-9zM732 582h9v1h-9zM731 583h11v1h-11zM735 587h3v1h-3zM733 588h7v1h-7zM732 589h9v1h-9zM732 590h9v1h-9zM731 591h11v1h-11zM731 592h11v1h-11zM731 593h11v1h-11zM732 594h9v1h-9zM732 595h9v1h-9zM733 596h7v1h-7zM735 597h3v1h-3zM732 601h9v9h-9zM732 562h9v9h-9zM733 563v7h7v-7z"/></g><g fill="none" stroke="#000" stroke-width="1"><circle cx="736.5" cy="553.5" r="5"/><path d="M736.5 536.5L731.5 544.5H741.5Z"/><path d="M736.5 524v7M732 525.5l9 4M732 529.5l9 -4"/></g>
<text class="got" font-size="12" text-anchor="middle" x="21" y="700.5" stroke="#000" stroke-width=".4">・</text>
<text class="got" font-size="12.4" text-anchor="middle" transform="translate(34,701) scale(0.8,1)" x="3.75 11.25 18.75 26.25 33.75 41.25 48.75 56.25 63.75 71.25 78.75 86.25 93.75 101.2 108.8 116.2 123.8 131.2 138.8 146.2 153.8 161.2 168.8 176.2 183.8 191.2 198.8 206.2 213.8 221.2 228.8 236.2 243.8 251.2 258.8 266.2 273.8 281.2 288.8 296.2 303.8 311.2 318.8 326.2 333.8 341.2 348.8 356.2" y="0" stroke="#000" stroke-width=".2"  xml:space="preserve">Wildlife Research Institute. Copyright reserved.</text>
<text class="got" font-size="12.4" text-anchor="middle" transform="translate(698,38) scale(0.7,1)" x="4.286 12.86 21.43 30 38.57 47.14 55.71 64.29 72.86 81.43 90 98.57" y="0" stroke="#000" stroke-width=".2"  xml:space="preserve">POLYGONACEAE</text>
<clipPath id="tc"><rect x="440" y="8" width="170" height="19"/></clipPath>
<g clip-path="url(#tc)"><text class="serif" font-size="15.5" font-weight="bold" font-style="italic" stroke="#000" stroke-width=".3" x="444.5" y="27.6" textLength="140" lengthAdjust="spacingAndGlyphs">Polygonum maackianum</text></g>
<text class="got" font-size="12" font-weight="bold" x="458" y="64.5" textLength="52" lengthAdjust="spacingAndGlyphs">サデクサ</text>
<text class="got" font-size="12" x="705" y="77.5" textLength="35" lengthAdjust="spacingAndGlyphs">タデ科</text>
<text class="min" font-size="12" stroke="#000" stroke-width=".25" x="824" y="649.5" textLength="96" lengthAdjust="spacingAndGlyphs">市町村番号変換済</text>
<text class="min" font-size="12" stroke="#000" stroke-width=".25" x="872" y="662.5" textLength="48" lengthAdjust="spacingAndGlyphs">種統合済</text>
<text class="min" font-size="13.5" text-anchor="middle" transform="translate(884,676) scale(0.87,1)" x="3.448 10.34 17.24 24.14 31.03 37.93" y="0" stroke="#000" stroke-width=".3" font-style="italic" xml:space="preserve">630100</text>
<text class="min" font-size="13.5" text-anchor="middle" transform="translate(866,688) scale(0.87,1)" x="3.448 10.34 17.24 24.14 31.03 37.93 44.83 51.72 58.62" y="0" stroke="#000" stroke-width=".3"  xml:space="preserve">2006/3/19</text>
</svg>
</body></html>
